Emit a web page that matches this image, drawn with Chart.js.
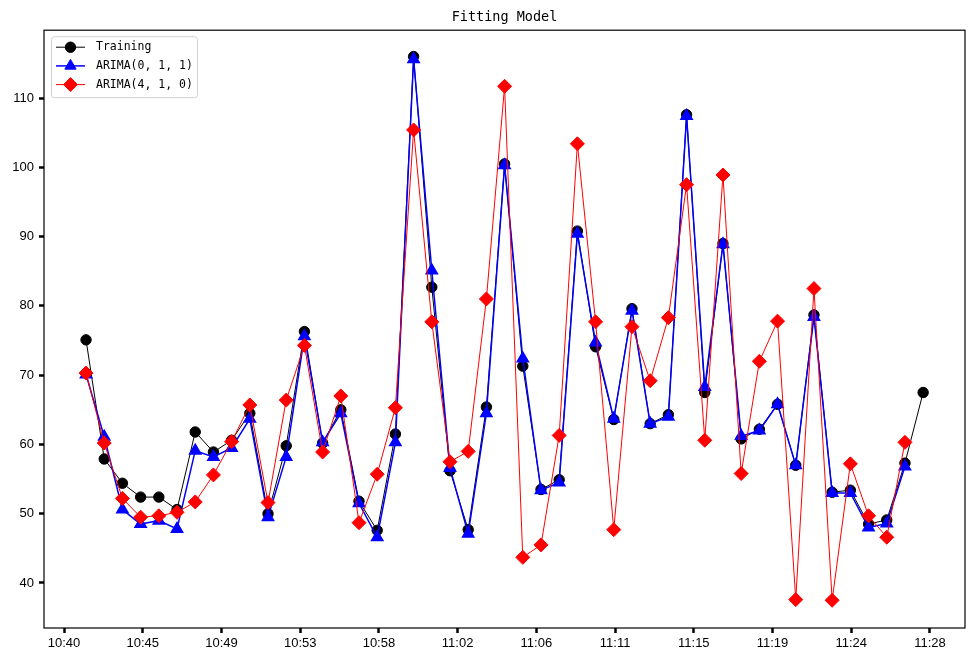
<!DOCTYPE html>
<html>
<head>
<meta charset="utf-8">
<script src="https://cdn.jsdelivr.net/npm/chart.js@4.4.0/dist/chart.umd.min.js"></script>
<style>
  html, body { margin: 0; padding: 0; background: #fff; }
  #wrap { width: 969px; height: 650px; }
</style>
</head>
<body>
<div id="wrap"><canvas id="fit-chart" width="969" height="650"></canvas></div>
<script>
// one sample per minute
const sampleTimes = [
    '10:41', '10:42', '10:43', '10:44', '10:45', '10:46', '10:47', '10:48', '10:49', '10:50',
    '10:51', '10:52', '10:53', '10:54', '10:55', '10:56', '10:57', '10:58', '10:59', '11:00',
    '11:01', '11:02', '11:03', '11:04', '11:05', '11:06', '11:07', '11:08', '11:09', '11:10',
    '11:11', '11:12', '11:13', '11:14', '11:15', '11:16', '11:17', '11:18', '11:19', '11:20',
    '11:21', '11:22', '11:23', '11:24', '11:25', '11:26', '11:27'
];

const training = [
    75.1, 57.9, 54.4, 52.4, 52.4, 50.6, 61.8, 58.9, 60.6, 64.5,
    50.0, 59.8, 76.3, 60.2, 65.0, 51.8, 47.6, 61.5, 116.0, 82.7,
    56.2, 47.7, 65.4, 100.5, 71.3, 53.5, 54.9, 90.8, 74.1, 63.6,
    79.6, 63.0, 64.3, 107.6, 67.5, 89.0, 60.8, 62.2, 65.8, 57.0,
    78.7, 53.1, 53.4, 48.5, 49.1, 57.3, 67.5
];

const arima011 = [
    70.1, 61.1, 50.6, 48.5, 49.0, 47.8, 59.1, 58.2, 59.5, 63.7,
    49.5, 58.2, 75.6, 60.3, 64.5, 51.5, 46.6, 60.3, 115.6, 85.1,
    56.6, 47.1, 64.5, 100.3, 72.4, 53.4, 54.5, 90.4, 74.7, 63.7,
    79.3, 63.0, 64.0, 107.4, 68.3, 88.9, 61.2, 62.0, 65.8, 57.0,
    78.4, 53.0, 53.0, 48.0, 48.6, 56.8
];

const arima410 = [
    70.3, 60.2, 52.2, 49.5, 49.7, 50.2, 51.7, 55.6, 60.4, 65.7,
    51.6, 66.4, 74.3, 58.9, 67.0, 48.7, 55.7, 65.3, 105.4, 77.7,
    57.5, 59.0, 81.0, 111.7, 43.7, 45.5, 61.3, 103.4, 77.7, 47.7,
    77.0, 69.2, 78.3, 97.5, 60.6, 98.9, 55.8, 72.0, 77.8, 37.6,
    82.5, 37.5, 57.2, 49.7, 46.6, 60.3
];

const tickLabels = ['10:40', '10:45', '10:49', '10:53', '10:58', '11:02', '11:06', '11:11', '11:15', '11:19', '11:24', '11:28'];
const yTicks = [40, 50, 60, 70, 80, 90, 100, 110];

function toMinutes(hhmm) {
    const [h, m] = hhmm.split(':').map(Number);
    return h * 60 + m;
}

function toPoints(values) {
    return values.map((v, i) => ({ x: toMinutes(sampleTimes[i]), y: v }));
}

const start = toMinutes(sampleTimes[0]);
const tickStart = start - 1.21;   // date ticks don't fall on whole minutes
const tickStep = 4.326;

// axes frame on all four sides
const frame = {
    id: 'frame',
    afterDatasetsDraw(chart) {
        const { ctx, chartArea: a } = chart;
        ctx.save();
        ctx.strokeStyle = '#000';
        ctx.lineWidth = 1.2;
        ctx.strokeRect(a.left, a.top, a.right - a.left, a.bottom - a.top);
        ctx.restore();
    }
};

// legend in the upper left corner: line + marker + label
const legendBox = {
    id: 'legendBox',
    afterDraw(chart) {
        const { ctx, chartArea } = chart;
        const x = chartArea.left + 7, y = chartArea.top + 6, w = 146, h = 61;
        ctx.save();
        ctx.fillStyle = 'rgba(255,255,255,0.8)';
        ctx.strokeStyle = '#d0d0d0';
        ctx.lineWidth = 1;
        ctx.beginPath();
        ctx.roundRect(x + 0.5, y + 0.5, w, h, 3);
        ctx.fill();
        ctx.stroke();

        chart.data.datasets.forEach((ds, i) => {
            const cy = y + 11 + i * 18.7;
            ctx.strokeStyle = ds.borderColor;
            ctx.lineWidth = ds.borderWidth;
            ctx.beginPath();
            ctx.moveTo(x + 5, cy);
            ctx.lineTo(x + 34, cy);
            ctx.stroke();

            ctx.fillStyle = ds.pointBackgroundColor;
            ctx.strokeStyle = ds.pointBorderColor;
            ctx.lineWidth = 1;
            Chart.helpers.drawPoint(ctx, {
                pointStyle: ds.pointStyle, radius: ds.pointRadius, borderWidth: 1, rotation: 0
            }, x + 19.5, cy);

            ctx.fillStyle = '#000';
            ctx.font = '11.5px "DejaVu Sans Mono"';
            ctx.textBaseline = 'middle';
            ctx.fillText(ds.label, x + 45, cy);
        });
        ctx.restore();
    }
};

const ctx = document.getElementById('fit-chart').getContext('2d');

new Chart(ctx, {
    type: 'line',
    data: {
        datasets: [{
            label: 'Training',
            data: toPoints(training),
            borderColor: '#000000',
            borderWidth: 1,
            pointStyle: 'circle',
            pointRadius: 5.2,
            pointBackgroundColor: '#000000',
            pointBorderColor: '#000000',
            order: 3
        }, {
            label: 'ARIMA(0, 1, 1)',
            data: toPoints(arima011),
            borderColor: '#0000ff',
            borderWidth: 1.5,
            pointStyle: 'triangle',
            pointRadius: 6.5,
            pointBackgroundColor: '#0000ff',
            pointBorderColor: '#0000ff',
            order: 2
        }, {
            label: 'ARIMA(4, 1, 0)',
            data: toPoints(arima410),
            borderColor: '#ff0000',
            borderWidth: 1,
            pointStyle: 'rectRot',
            pointRadius: 7,
            pointBackgroundColor: '#ff0000',
            pointBorderColor: '#ff0000',
            order: 1
        }]
    },
    options: {
        responsive: false,
        animation: false,
        devicePixelRatio: 1,
        layout: { autoPadding: false, padding: { left: 0, right: 4, top: 0, bottom: 0 } },
        elements: { line: { tension: 0, fill: false } },
        plugins: {
            legend: { display: false },
            tooltip: { enabled: false },
            title: {
                display: true,
                text: 'Fitting Model',
                fullSize: false,
                color: '#000',
                font: { family: 'DejaVu Sans Mono', size: 13.5, weight: 'normal', lineHeight: 1.2 },
                padding: { top: 9, bottom: 5 }
            }
        },
        scales: {
            x: {
                type: 'linear',
                min: start - 2.31,
                max: start + 48.3,
                afterBuildTicks: scale => {
                    scale.ticks = tickLabels.map((_, k) => ({ value: tickStart + k * tickStep }));
                },
                afterFit: scale => { scale.height = 22; },
                border: { display: false },
                grid: { drawOnChartArea: false, drawTicks: true, tickLength: 5, tickWidth: 2.5, tickColor: '#000' },
                ticks: {
                    autoSkip: false,
                    maxRotation: 0,
                    padding: 3,
                    color: '#000',
                    font: { family: 'Liberation Sans', size: 13 },
                    callback: (value, index) => tickLabels[index]
                }
            },
            y: {
                min: 33.5,
                max: 119.8,
                afterBuildTicks: scale => {
                    scale.ticks = yTicks.map(v => ({ value: v }));
                },
                afterFit: scale => { scale.width = 44; },
                border: { display: false },
                grid: { drawOnChartArea: false, drawTicks: true, tickLength: 5, tickWidth: 2.5, tickColor: '#000' },
                ticks: {
                    padding: 5,
                    color: '#000',
                    font: { family: 'Liberation Sans', size: 13 }
                }
            }
        }
    },
    plugins: [frame, legendBox]
});
</script>
</body>
</html>
